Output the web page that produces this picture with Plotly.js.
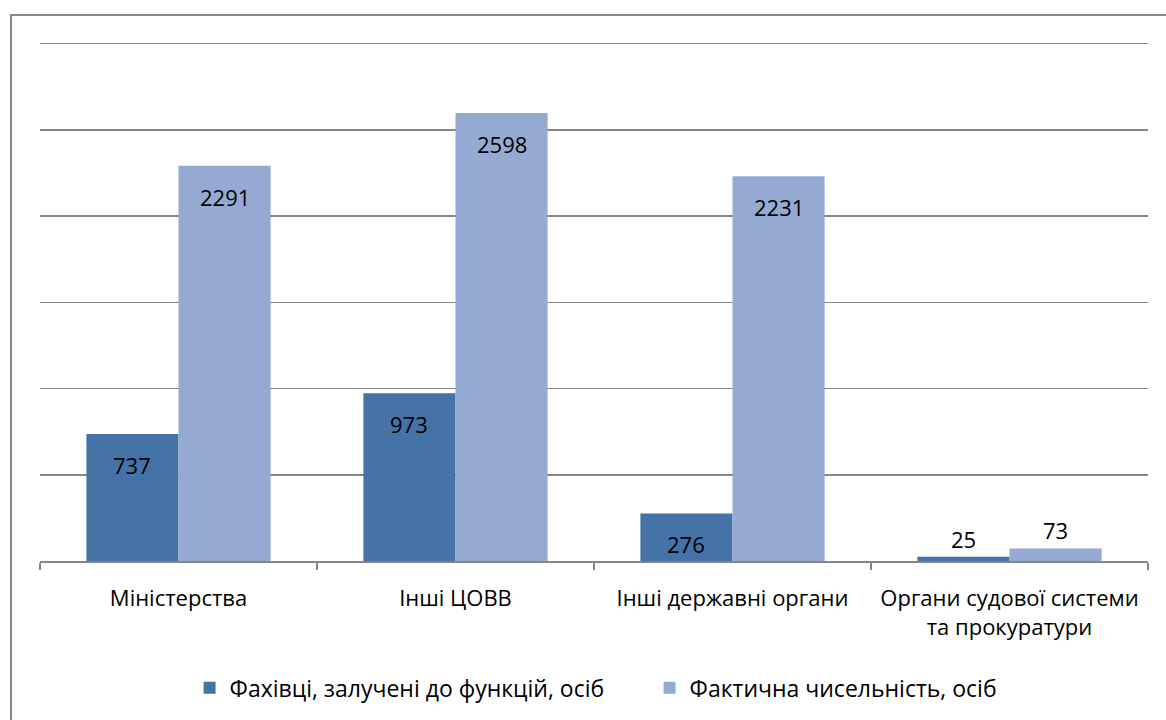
<!DOCTYPE html>
<html>
<head>
<meta charset="utf-8">
<script src="https://cdn.plot.ly/plotly-3.0.1.min.js"></script>
<style>
  html, body { margin: 0; padding: 0; background: #fff; }
  #wrap { position: relative; width: 1166px; height: 720px; overflow: hidden; }
  #chart { position: absolute; left: 0; top: 0; width: 1166px; height: 720px; }
  #frame { position: absolute; left: 10px; top: 14px; width: 1170px; height: 720px;
           border: 2px solid #898989; pointer-events: none; box-sizing: border-box; }
</style>
</head>
<body>
<div id="wrap">
  <div id="chart"></div>
  <div id="frame"></div>
</div>
<script>
const categories = ["Міністерства", "Інші ЦОВВ", "Інші державні органи", "Органи судової системи<br>та прокуратури"];
const seriesNames = ["Фахівці, залучені до функцій, осіб", "Фактична чисельність, осіб"];
const specialists = [737, 973, 276, 25];
const actual = [2291, 2598, 2231, 73];

const colors = ["#4572A7", "#94AAD2"];
const FONT = '"Open Sans", "Noto Sans", sans-serif';
const FS = 23;

const traces = [specialists, actual].map((vals, i) => ({
  type: "bar",
  name: seriesNames[i],
  x: categories,
  y: vals,
  marker: { color: colors[i] },
  hoverinfo: "skip"
}));

// data labels: inside end for big bars, above for small bars
const groupWidth = 1 - 0.335;
const half = groupWidth / 4;
const annotations = [];
[specialists, actual].forEach((vals, s) => {
  vals.forEach((v, c) => {
    const inside = v > 200;
    annotations.push({
      x: c + (s === 0 ? -half : half),
      y: v,
      xref: "x", yref: "y",
      text: String(v),
      showarrow: false,
      yanchor: inside ? "top" : "bottom",
      yshift: inside ? -14 : 1,
      font: { family: FONT, size: 22, color: "#000" }
    });
  });
});

const layout = {
  width: 1166, height: 720,
  margin: { l: 40, r: 18, t: 41, b: 158 },
  paper_bgcolor: "#fff", plot_bgcolor: "#fff",
  barmode: "group",
  bargap: 0.335, bargroupgap: 0,
  font: { family: FONT, size: FS, color: "#000" },
  showlegend: true,
  legend: { orientation: "h", x: 0.135, xanchor: "left", y: -0.2, yanchor: "top",
            entrywidth: 415, entrywidthmode: "pixels",
            font: { family: FONT, size: FS, color: "#000" }, itemwidth: 30, tracegroupgap: 0 },
  xaxis: {
    type: "category",
    showgrid: false,
    showline: true, linecolor: "#868686", linewidth: 1.5,
    ticks: "outside", tickson: "boundaries", ticklen: 7, tickcolor: "#868686", tickwidth: 1.5,
    ticklabelstandoff: 17, tickangle: 0,
    tickfont: { family: FONT, size: 22, color: "#000" },
    fixedrange: true
  },
  yaxis: {
    range: [0, 3015], tickvals: [500, 1000, 1500, 2000, 2500, 3000],
    showgrid: true, gridcolor: "#868686", gridwidth: 1.5,
    showticklabels: false, zeroline: false, showline: false, ticks: "",
    fixedrange: true
  },
  annotations: annotations
};

Plotly.newPlot("chart", traces, layout, { displayModeBar: false, staticPlot: true });
</script>
</body>
</html>
